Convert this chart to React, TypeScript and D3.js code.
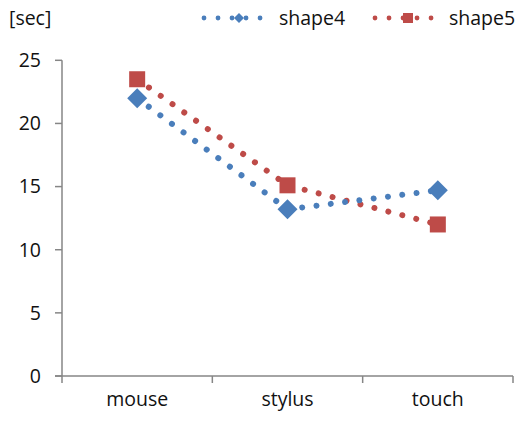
import React from "react";
import * as d3 from "d3";

const categories = ["mouse", "stylus", "touch"];
const shape4 = [22.0, 13.2, 14.7];
const shape5 = [23.5, 15.1, 12.0];
const yTicks = [0, 5, 10, 15, 20, 25];

const BLUE = "#4A7EBB";
const RED = "#BE4B48";
const AXIS = "#868686";
const TEXT = "#111";
const FONT = "'Open Sans', 'Noto Sans', sans-serif";
const FS = 19.5;

const W = 520;
const H = 421;
const left = 62;
const right = 513;
const top = 60.3;
const bottom = 376;

export default function App() {
  const x = d3.scaleBand<string>().domain(categories).range([left, right]);
  const y = d3.scaleLinear().domain([0, 25]).range([bottom, top]);
  const cx = (c: string) => (x(c) ?? 0) + x.bandwidth() / 2;

  const line = d3
    .line<number>()
    .x((_, i) => cx(categories[i]))
    .y((v) => y(v));

  const diamond = (px: number, py: number, r: number) =>
    `M${px},${py - r}L${px + r},${py}L${px},${py + r}L${px - r},${py}Z`;

  const xTickPos = [left, ...categories.map((c) => (x(c) ?? 0) + x.bandwidth())];

  return (
    <svg width={W} height={H} style={{ position: "absolute", left: 0, top: 0, background: "#fff" }}>
      {/* unit label */}
      <text x={9} y={25} fontFamily={FONT} fontSize={FS} fill={TEXT}>
        [sec]
      </text>

      {/* legend */}
      <g>
        <line x1={204} x2={263} y1={18} y2={18} stroke={BLUE} strokeWidth={4.8} strokeLinecap="round" strokeDasharray="0.01 14" />
        <path d={diamond(239, 18, 5)} fill={BLUE} />
        <text x={279} y={25} fontFamily={FONT} fontSize={FS} fill={TEXT}>shape4</text>
        <line x1={375} x2={433} y1={18} y2={18} stroke={RED} strokeWidth={4.8} strokeLinecap="round" strokeDasharray="0.01 14" />
        <rect x={403} y={13} width={10} height={10} fill={RED} />
        <text x={449} y={25} fontFamily={FONT} fontSize={FS} fill={TEXT}>shape5</text>
      </g>

      {/* y axis */}
      <line x1={left} x2={left} y1={top} y2={bottom} stroke={AXIS} strokeWidth={1.5} />
      {yTicks.map((t) => (
        <g key={t}>
          <line x1={left - 7} x2={left} y1={y(t)} y2={y(t)} stroke={AXIS} strokeWidth={1.5} />
          <text x={41} y={y(t)} dy="0.35em" textAnchor="end" fontFamily={FONT} fontSize={FS} fill={TEXT}>
            {t}
          </text>
        </g>
      ))}

      {/* x axis */}
      <line x1={left - 7} x2={right} y1={bottom} y2={bottom} stroke={AXIS} strokeWidth={1.5} />
      {xTickPos.map((p, i) => (
        <line key={i} x1={p} x2={p} y1={bottom} y2={bottom + 7} stroke={AXIS} strokeWidth={1.5} />
      ))}
      {categories.map((c) => (
        <text key={c} x={cx(c)} y={406} textAnchor="middle" fontFamily={FONT} fontSize={FS} fill={TEXT}>
          {c}
        </text>
      ))}

      {/* series lines */}
      <path d={line(shape5) ?? ""} fill="none" stroke={RED} strokeWidth={6} strokeLinecap="round" strokeDasharray="0.01 14.4" />
      <path d={line(shape4) ?? ""} fill="none" stroke={BLUE} strokeWidth={6} strokeLinecap="round" strokeDasharray="0.01 14.4" />

      {/* markers */}
      {shape4.map((v, i) => (
        <path key={`d${i}`} d={diamond(cx(categories[i]), y(v), 10)} fill={BLUE} />
      ))}
      {shape5.map((v, i) => (
        <rect key={`s${i}`} x={cx(categories[i]) - 8} y={y(v) - 8} width={16} height={16} fill={RED} />
      ))}
    </svg>
  );
}
